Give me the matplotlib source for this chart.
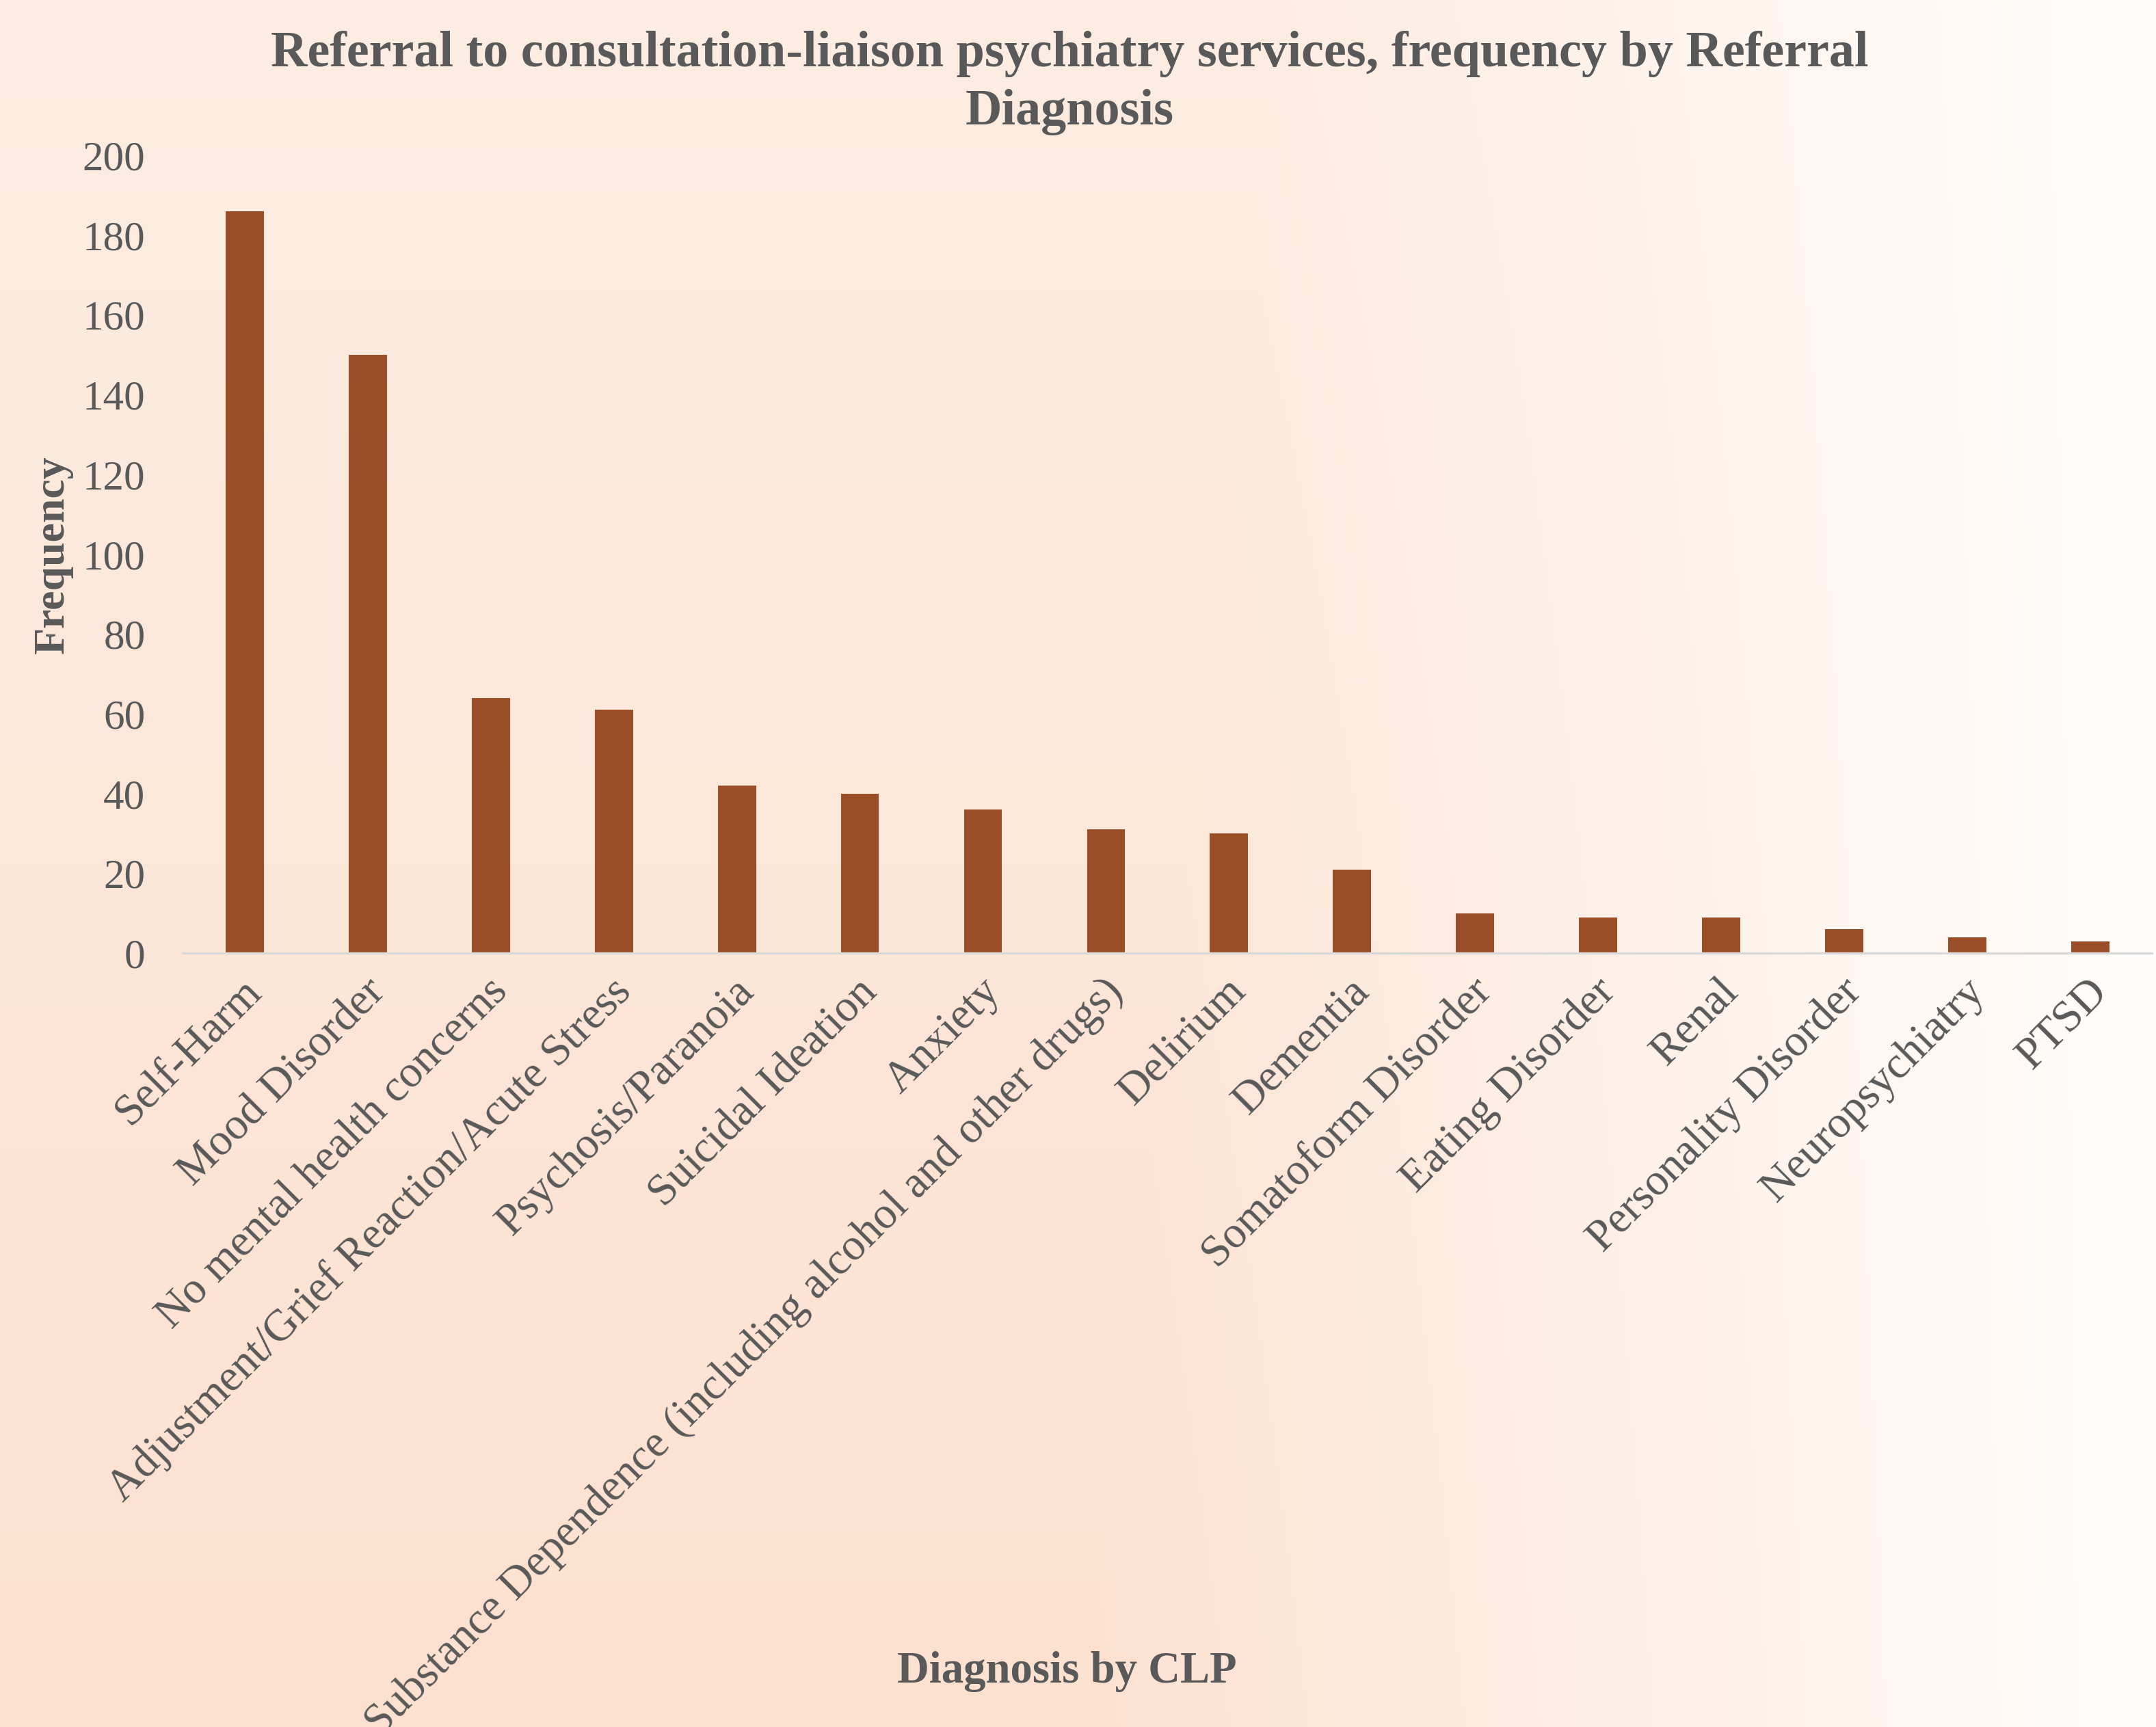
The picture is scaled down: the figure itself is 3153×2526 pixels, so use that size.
import matplotlib.pyplot as plt
import matplotlib.transforms as mtransforms
import numpy as np

# data
diagnoses = [
    "Self-Harm",
    "Mood Disorder",
    "No mental health concerns",
    "Adjustment/Grief Reaction/Acute Stress",
    "Psychosis/Paranoia",
    "Suicidal Ideation",
    "Anxiety",
    "Substance Dependence (including alcohol and other drugs)",
    "Delirium",
    "Dementia",
    "Somatoform Disorder",
    "Eating Disorder",
    "Renal",
    "Personality Disorder",
    "Neuropsychiatry",
    "PTSD",
]
frequency = [186, 150, 64, 61, 42, 40, 36, 31, 30, 21, 10, 9, 9, 6, 4, 3]
y_ticks = [0, 20, 40, 60, 80, 100, 120, 140, 160, 180, 200]
title_lines = [
    "Referral to consultation-liaison psychiatry services, frequency by Referral",
    "Diagnosis",
]

TEXT = "#595959"
BAR = "#9A4D26"

plt.rcParams["font.family"] = ["Liberation Serif", "DejaVu Serif"]

fig = plt.figure(figsize=(15.765, 12.63), dpi=200)

# background gradient: peach on the left, fading to white on the right
h, w = 300, 600
yy, xx = np.mgrid[0:h, 0:w]
yf = yy / (h - 1)          # 0 top, 1 bottom
xf = xx / (w - 1)
top_col = np.array([0xFD, 0xED, 0xE2]) / 255
bot_col = np.array([0xFC, 0xE1, 0xD0]) / 255
white = np.array([0xFF, 0xFD, 0xFB]) / 255
base = top_col[None, None, :] * (1 - yf[..., None]) + bot_col[None, None, :] * yf[..., None]
x0 = 0.60 - 0.10 * yf
fade = np.clip((xf - x0) / (1 - x0), 0, 1)[..., None]
img = base * (1 - fade) + white[None, None, :] * fade

bg = fig.add_axes([0, 0, 1, 1], zorder=-1)
bg.imshow(img, aspect="auto", extent=[0, 1, 0, 1], interpolation="bilinear")
bg.axis("off")

ax = fig.add_axes([0.085, 0.448, 0.913, 0.462])
ax.patch.set_alpha(0)

x = np.arange(len(diagnoses))
ax.bar(x, frequency, width=0.31, color=BAR, zorder=2)

ax.set_xlim(-0.5, len(diagnoses) - 0.5)
ax.set_ylim(0, 200)
ax.set_yticks(y_ticks)
ax.tick_params(axis="y", length=0, pad=20, labelsize=22, labelcolor=TEXT)
ax.tick_params(axis="x", length=0, pad=17, labelsize=23.5, labelcolor=TEXT)
ax.set_xticks(x)
ax.set_xticklabels(diagnoses, rotation=45, ha="right", va="center",
                   rotation_mode="anchor")
shift = mtransforms.ScaledTranslation(0.08, 0, fig.dpi_scale_trans)
for lab in ax.get_xticklabels():
    lab.set_transform(lab.get_transform() + shift)

for side in ["top", "right", "left"]:
    ax.spines[side].set_visible(False)
ax.spines["bottom"].set_color("#D9D9D9")
ax.spines["bottom"].set_linewidth(1.2)

ax.set_ylabel("Frequency", fontsize=23, fontweight="bold", color=TEXT)
ax.yaxis.set_label_coords(-0.056, 0.5)

# two title lines, placed on their baselines
for line, yb in zip(title_lines, [0.9616, 0.928]):
    fig.text(0.496, yb, line, ha="center", va="baseline", fontsize=26.7,
             fontweight="bold", color=TEXT)
fig.text(0.495, 0.032, "Diagnosis by CLP", ha="center", va="center",
         fontsize=23.3, fontweight="bold", color=TEXT)

fig.savefig("out.png", dpi=200)
